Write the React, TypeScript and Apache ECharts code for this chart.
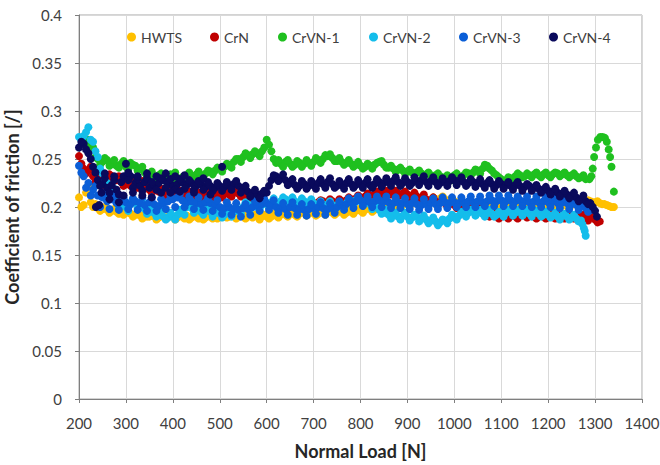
import React, { useEffect, useRef } from "react";
import * as echarts from "echarts";

// Normal load sampling grids [N]
const loadGrid = [
  200, 210, 220, 230, 240, 250, 260, 270, 280, 290,
  300, 310, 320, 330, 340, 350, 360, 370, 380, 390,
  400, 410, 420, 430, 440, 450, 460, 470, 480, 490,
  500, 510, 520, 530, 540, 550, 560, 570, 580, 590,
  600, 610, 620, 630, 640, 650, 660, 670, 680, 690,
  700, 710, 720, 730, 740, 750, 760, 770, 780, 790,
  800, 810, 820, 830, 840, 850, 860, 870, 880, 890,
  900, 910, 920, 930, 940, 950, 960, 970, 980, 990,
  1000, 1010, 1020, 1030, 1040, 1050, 1060, 1070, 1080, 1090,
  1100, 1110, 1120, 1130, 1140, 1150, 1160, 1170, 1180, 1190,
  1200, 1210, 1220, 1230, 1240, 1250, 1260, 1270, 1280, 1290,
  1300, 1310, 1320, 1330, 1340,
];
const loadGridB = [
  205, 215, 225, 235, 245, 255, 265, 275, 285, 295,
  305, 315, 325, 335, 345, 355, 365, 375, 385, 395,
  405, 415, 425, 435, 445, 455, 465, 475, 485, 495,
  505, 515, 525, 535, 545, 555, 565, 575, 585, 595,
  605, 615, 625, 635, 645, 655, 665, 675, 685, 695,
  705, 715, 725, 735, 745, 755, 765, 775, 785, 795,
  805, 815, 825, 835, 845, 855, 865, 875, 885, 895,
  905, 915, 925, 935, 945, 955, 965, 975, 985, 995,
  1005, 1015, 1025, 1035, 1045, 1055, 1065, 1075, 1085, 1095,
  1105, 1115, 1125, 1135, 1145, 1155, 1165, 1175, 1185, 1195,
  1205, 1215, 1225, 1235, 1245, 1255, 1265, 1275, 1285, 1295,
  1305, 1315, 1325, 1335,
];

const hwts = [
  0.21, 0.202, 0.222, 0.2, 0.199, 0.198, 0.197, 0.196, 0.195, 0.196,
  0.194, 0.193, 0.192, 0.191, 0.192, 0.19, 0.19, 0.189, 0.19, 0.19,
  0.19, 0.189, 0.19, 0.191, 0.189, 0.19, 0.19, 0.189, 0.19, 0.191,
  0.191, 0.192, 0.19, 0.191, 0.19, 0.192, 0.19, 0.189, 0.19, 0.19,
  0.19, 0.19, 0.191, 0.192, 0.192, 0.193, 0.192, 0.193, 0.194, 0.193,
  0.194, 0.193, 0.194, 0.195, 0.194, 0.194, 0.195, 0.194, 0.195, 0.196,
  0.196, 0.197, 0.198, 0.197, 0.198, 0.199, 0.2, 0.2, 0.201, 0.202,
  0.203, 0.204, 0.205, 0.206, 0.206, 0.207, 0.208, 0.209, 0.208, 0.207,
  0.206, 0.205, 0.204, 0.203, 0.202, 0.201, 0.2, 0.2, 0.199, 0.199,
  0.199, 0.2, 0.2, 0.199, 0.2, 0.201, 0.2, 0.2, 0.201, 0.2,
  0.2, 0.201, 0.2, 0.202, 0.201, 0.202, 0.203, 0.204, 0.205, 0.206,
  0.205, 0.204, 0.203, 0.201, 0.2,
];
const hwtsB = [
  0.2, 0.215, 0.205, 0.203, 0.196, 0.2, 0.194, 0.198, 0.193, 0.192,
  0.196, 0.19, 0.195, 0.188, 0.19, 0.193, 0.187, 0.192, 0.188, 0.192,
  0.187, 0.192, 0.188, 0.187, 0.192, 0.188, 0.187, 0.192, 0.188, 0.188,
  0.194, 0.189, 0.193, 0.188, 0.193, 0.188, 0.192, 0.192, 0.187, 0.192,
  0.188, 0.193, 0.189, 0.194, 0.19, 0.195, 0.19, 0.195, 0.191, 0.196,
  0.191, 0.196, 0.192, 0.197, 0.192, 0.196, 0.192, 0.197, 0.193, 0.198,
  0.194, 0.2, 0.195, 0.2, 0.196, 0.202, 0.198, 0.203, 0.199, 0.205,
  0.201, 0.207, 0.203, 0.209, 0.204, 0.21, 0.206, 0.211, 0.206, 0.209,
  0.203, 0.207, 0.202, 0.205, 0.2, 0.203, 0.198, 0.202, 0.197, 0.201,
  0.197, 0.202, 0.198, 0.202, 0.198, 0.203, 0.198, 0.202, 0.198, 0.202,
  0.198, 0.203, 0.199, 0.204, 0.2, 0.204, 0.205, 0.206, 0.207, 0.205,
  0.206, 0.203, 0.202, 0.2,
];

const crn = [
  0.253, 0.24, 0.238, 0.232, 0.228, 0.225, 0.23, 0.232, 0.228, 0.226,
  0.225, 0.222, 0.226, 0.223, 0.22, 0.218, 0.219, 0.216, 0.215, 0.214,
  0.214, 0.213, 0.215, 0.212, 0.213, 0.211, 0.212, 0.213, 0.214, 0.212,
  0.213, 0.214, 0.213, 0.215, 0.214, 0.212, 0.209, 0.207, 0.205, 0.204,
  0.203, 0.202, 0.203, 0.202, 0.201, 0.202, 0.203, 0.202, 0.203, 0.204,
  0.204, 0.205, 0.206, 0.205, 0.206, 0.205, 0.206, 0.207, 0.208, 0.209,
  0.21, 0.211, 0.212, 0.213, 0.214, 0.214, 0.215, 0.215, 0.214, 0.214,
  0.213, 0.212, 0.211, 0.21, 0.208, 0.207, 0.206, 0.205, 0.204, 0.203,
  0.202, 0.201, 0.2, 0.199, 0.198, 0.197, 0.195, 0.193, 0.192, 0.191,
  0.191, 0.192, 0.191, 0.19, 0.191, 0.192, 0.191, 0.19, 0.191, 0.19,
  0.19, 0.191, 0.19, 0.192, 0.191, 0.19, 0.19, 0.189, 0.188, 0.19,
  0.187, 0.185, null, null, null,
];
const crnB = [
  0.245, 0.235, 0.242, 0.226, 0.233, 0.222, 0.234, 0.228, 0.232, 0.222,
  0.229, 0.226, 0.22, 0.227, 0.223, 0.215, 0.222, 0.219, 0.212, 0.217,
  0.211, 0.217, 0.211, 0.216, 0.21, 0.215, 0.209, 0.216, 0.21, 0.216,
  0.21, 0.217, 0.211, 0.218, 0.211, 0.215, 0.206, 0.209, 0.203, 0.206,
  0.2, 0.205, 0.2, 0.205, 0.199, 0.205, 0.2, 0.205, 0.201, 0.206,
  0.202, 0.207, 0.203, 0.208, 0.203, 0.208, 0.204, 0.21, 0.206, 0.212,
  0.208, 0.214, 0.21, 0.216, 0.212, 0.217, 0.213, 0.217, 0.212, 0.216,
  0.21, 0.215, 0.208, 0.213, 0.206, 0.21, 0.203, 0.208, 0.201, 0.205,
  0.199, 0.203, 0.197, 0.201, 0.195, 0.199, 0.192, 0.19, 0.194, 0.188,
  0.194, 0.188, 0.193, 0.188, 0.194, 0.189, 0.193, 0.188, 0.193, 0.188,
  0.193, 0.188, 0.192, 0.188, 0.193, 0.188, 0.191, 0.192, 0.186, 0.189,
  0.184, null, null, null,
];

const crvn1 = [
  null, null, 0.27, 0.262, 0.25, 0.247, 0.249, 0.245, 0.243, 0.245,
  0.242, 0.246, 0.243, 0.24, 0.236, 0.234, 0.232, 0.233, 0.23, 0.231,
  0.229, 0.228, 0.231, 0.233, 0.232, 0.234, 0.233, 0.235, 0.237, 0.238,
  0.24, 0.242, 0.244, 0.247, 0.25, 0.252, 0.254, 0.255, 0.256, 0.258,
  0.27, 0.258, 0.246, 0.245, 0.247, 0.245, 0.244, 0.246, 0.245, 0.246,
  0.247, 0.249, 0.25, 0.253, 0.251, 0.248, 0.247, 0.246, 0.245, 0.244,
  0.243, 0.242, 0.243, 0.244, 0.247, 0.244, 0.241, 0.24, 0.239, 0.238,
  0.237, 0.236, 0.236, 0.235, 0.234, 0.233, 0.233, 0.232, 0.231, 0.23,
  0.233, 0.232, 0.233, 0.235, 0.236, 0.238, 0.24, 0.243, 0.238, 0.233,
  0.229, 0.228, 0.23, 0.232, 0.233, 0.232, 0.233, 0.234, 0.233, 0.234,
  0.233, 0.234, 0.235, 0.234, 0.233, 0.233, 0.232, 0.231, 0.229, null,
  null, null, null, null, null,
];
const crvn1B = [
  null, 0.266, 0.262, 0.252, 0.244, 0.251, 0.243, 0.249, 0.241, 0.248,
  0.239, 0.244, 0.238, 0.242, 0.232, 0.237, 0.229, 0.235, 0.227, 0.234,
  0.236, 0.226, 0.228, 0.236, 0.23, 0.237, 0.231, 0.238, 0.234, 0.241,
  0.237, 0.245, 0.241, 0.25, 0.247, 0.256, 0.251, 0.258, 0.253, 0.262,
  0.265, 0.25, 0.249, 0.242, 0.249, 0.242, 0.248, 0.242, 0.249, 0.243,
  0.251, 0.246, 0.254, 0.255, 0.248, 0.251, 0.244, 0.249, 0.242, 0.247,
  0.24, 0.245, 0.24, 0.246, 0.248, 0.241, 0.243, 0.237, 0.241, 0.235,
  0.239, 0.233, 0.238, 0.232, 0.236, 0.23, 0.235, 0.229, 0.233, 0.228,
  0.235, 0.23, 0.236, 0.233, 0.239, 0.235, 0.244, 0.24, 0.235, 0.231,
  0.226, 0.231, 0.228, 0.235, 0.231, 0.235, 0.231, 0.236, 0.231, 0.236,
  0.231, 0.236, 0.232, 0.236, 0.231, 0.235, 0.23, 0.233, null, null,
  null, null, null, null,
];
// CrVN-1 peak at the end of the test
const crvn1PeakLoad = [1288, 1292, 1295, 1298, 1302, 1306, 1311, 1316, 1321, 1325, 1329, 1332, 1335, 1340];
const crvn1PeakCof = [0.229, 0.232, 0.24, 0.252, 0.262, 0.27, 0.273, 0.273, 0.272, 0.268, 0.26, 0.252, 0.242, 0.216];

const crvn2 = [
  0.273, 0.274, 0.283, 0.268, 0.252, 0.235, 0.225, 0.215, 0.208, 0.203,
  0.2, 0.203, 0.205, 0.2, 0.198, 0.195, 0.194, 0.192, 0.19, 0.189,
  0.19, 0.192, 0.196, 0.2, 0.199, 0.197, 0.195, 0.196, 0.195, 0.194,
  0.193, 0.192, 0.194, 0.195, 0.197, 0.2, 0.203, 0.202, 0.2, 0.202,
  0.204, 0.205, 0.203, 0.206, 0.208, 0.207, 0.206, 0.205, 0.206, 0.205,
  0.204, 0.203, 0.202, 0.203, 0.202, 0.2, 0.202, 0.204, 0.206, 0.207,
  0.206, 0.205, 0.203, 0.2, 0.197, 0.194, 0.192, 0.191, 0.19, 0.191,
  0.19, 0.189, 0.19, 0.188, 0.187, 0.186, 0.185, 0.184, 0.186, 0.188,
  0.19, 0.191, 0.193, 0.194, 0.195, 0.194, 0.193, 0.194, 0.193, 0.192,
  0.193, 0.194, 0.195, 0.194, 0.195, 0.194, 0.193, 0.194, 0.193, 0.192,
  0.192, 0.191, 0.19, 0.191, 0.19, 0.189, 0.188, 0.186, null, null,
  null, null, null, null, null,
];
const crvn2B = [
  0.27, 0.278, 0.27, 0.258, 0.24, 0.228, 0.21, 0.219, 0.2, 0.207,
  0.196, 0.208, 0.199, 0.205, 0.193, 0.2, 0.19, 0.197, 0.187, 0.194,
  0.187, 0.197, 0.192, 0.203, 0.194, 0.201, 0.192, 0.199, 0.19, 0.197,
  0.189, 0.196, 0.19, 0.199, 0.193, 0.205, 0.198, 0.206, 0.197, 0.206,
  0.2, 0.209, 0.2, 0.21, 0.204, 0.21, 0.202, 0.209, 0.201, 0.208,
  0.2, 0.206, 0.198, 0.206, 0.198, 0.205, 0.199, 0.208, 0.202, 0.21,
  0.202, 0.208, 0.198, 0.203, 0.193, 0.197, 0.188, 0.194, 0.187, 0.194,
  0.186, 0.192, 0.185, 0.191, 0.183, 0.189, 0.181, 0.187, 0.183, 0.192,
  0.187, 0.195, 0.19, 0.197, 0.191, 0.197, 0.19, 0.197, 0.19, 0.195,
  0.19, 0.197, 0.191, 0.197, 0.191, 0.197, 0.19, 0.196, 0.19, 0.195,
  0.189, 0.194, 0.187, 0.193, 0.187, 0.192, 0.185, null, null, null,
  null, null, null, null,
];
const crvn2TailLoad = [1273, 1276, 1278, 1280];
const crvn2TailCof = [0.182, 0.178, 0.175, 0.17];

const crvn3 = [
  0.243, 0.232, 0.225, 0.218, 0.212, 0.21, 0.206, 0.208, 0.204, 0.206,
  0.205, 0.203, 0.206, 0.204, 0.202, 0.205, 0.203, 0.201, 0.204, 0.206,
  0.208, 0.21, 0.207, 0.205, 0.206, 0.204, 0.203, 0.205, 0.204, 0.202,
  0.2, 0.199, 0.2, 0.198, 0.197, 0.199, 0.198, 0.2, 0.202, 0.203,
  0.204, 0.202, 0.2, 0.199, 0.198, 0.2, 0.199, 0.198, 0.197, 0.198,
  0.199, 0.2, 0.199, 0.198, 0.199, 0.2, 0.202, 0.203, 0.205, 0.206,
  0.207, 0.206, 0.205, 0.206, 0.207, 0.206, 0.205, 0.204, 0.205, 0.204,
  0.203, 0.204, 0.203, 0.202, 0.203, 0.204, 0.203, 0.204, 0.205, 0.204,
  0.205, 0.204, 0.205, 0.206, 0.205, 0.206, 0.205, 0.206, 0.207, 0.206,
  0.207, 0.206, 0.207, 0.206, 0.207, 0.206, 0.205, 0.206, 0.205, 0.206,
  0.205, 0.206, 0.204, 0.205, 0.204, 0.203, 0.202, 0.201, 0.199, 0.197,
  null, null, null, null, null,
];
const crvn3B = [
  0.236, 0.22, 0.212, 0.222, 0.2, 0.215, 0.198, 0.212, 0.197, 0.21,
  0.198, 0.209, 0.197, 0.21, 0.196, 0.21, 0.196, 0.208, 0.198, 0.212,
  0.2, 0.214, 0.2, 0.211, 0.198, 0.21, 0.197, 0.209, 0.196, 0.207,
  0.193, 0.205, 0.192, 0.204, 0.19, 0.203, 0.192, 0.206, 0.196, 0.208,
  0.197, 0.207, 0.194, 0.204, 0.192, 0.205, 0.192, 0.203, 0.191, 0.203,
  0.193, 0.205, 0.192, 0.204, 0.194, 0.206, 0.197, 0.209, 0.199, 0.211,
  0.201, 0.211, 0.2, 0.211, 0.2, 0.211, 0.199, 0.21, 0.199, 0.209,
  0.198, 0.209, 0.197, 0.208, 0.198, 0.209, 0.198, 0.21, 0.199, 0.21,
  0.2, 0.21, 0.2, 0.211, 0.2, 0.211, 0.201, 0.212, 0.201, 0.212,
  0.201, 0.212, 0.201, 0.211, 0.201, 0.211, 0.2, 0.211, 0.2, 0.21,
  0.2, 0.21, 0.199, 0.209, 0.198, 0.208, 0.197, 0.205, 0.195, null,
  null, null, null, null,
];

const crvn4 = [
  0.262, 0.266, 0.256, 0.242, 0.228, 0.224, 0.22, 0.223, 0.218, 0.226,
  0.245, 0.232, 0.225, 0.222, 0.226, 0.22, 0.223, 0.225, 0.228, 0.224,
  0.222, 0.224, 0.226, 0.223, 0.225, 0.222, 0.224, 0.221, 0.222, 0.22,
  0.222, 0.221, 0.223, 0.224, 0.222, 0.219, 0.216, 0.214, 0.213, 0.214,
  0.215, 0.228, 0.232, 0.23, 0.228, 0.225, 0.223, 0.222, 0.224, 0.222,
  0.223, 0.225, 0.224, 0.226, 0.224, 0.222, 0.223, 0.225, 0.224, 0.223,
  0.224, 0.225, 0.223, 0.224, 0.226, 0.225, 0.226, 0.227, 0.226, 0.225,
  0.226, 0.225, 0.227, 0.228, 0.226, 0.227, 0.226, 0.225, 0.226, 0.227,
  0.228, 0.227, 0.226, 0.225, 0.226, 0.225, 0.224, 0.225, 0.224, 0.223,
  0.224, 0.223, 0.222, 0.223, 0.222, 0.221, 0.222, 0.22, 0.219, 0.218,
  0.217, 0.216, 0.215, 0.214, 0.213, 0.212, 0.21, 0.208, 0.206, 0.204,
  0.196, null, null, null, null,
];
const crvn4B = [
  0.268, 0.26, 0.25, 0.236, 0.222, 0.23, 0.215, 0.228, 0.213, 0.232,
  0.228, 0.22, 0.229, 0.217, 0.23, 0.226, 0.218, 0.23, 0.22, 0.229,
  0.218, 0.229, 0.219, 0.228, 0.218, 0.227, 0.218, 0.226, 0.217, 0.225,
  0.217, 0.226, 0.218, 0.227, 0.215, 0.222, 0.211, 0.218, 0.209, 0.217,
  0.222, 0.233, 0.227, 0.234, 0.223, 0.229, 0.219, 0.227, 0.219, 0.227,
  0.219, 0.229, 0.22, 0.23, 0.22, 0.227, 0.219, 0.229, 0.22, 0.228,
  0.22, 0.229, 0.22, 0.229, 0.221, 0.23, 0.222, 0.231, 0.222, 0.23,
  0.222, 0.231, 0.223, 0.232, 0.222, 0.231, 0.222, 0.23, 0.222, 0.231,
  0.223, 0.231, 0.222, 0.229, 0.221, 0.229, 0.22, 0.228, 0.219, 0.227,
  0.219, 0.226, 0.218, 0.226, 0.217, 0.224, 0.217, 0.223, 0.215, 0.221,
  0.213, 0.219, 0.211, 0.217, 0.209, 0.215, 0.206, 0.212, 0.203, 0.2,
  null, null, null, null,
];
// Scattered CrVN-4 readings during running-in and at the end
const crvn4ScatterLoad = [236, 243, 248, 255, 265, 275, 285, 295, 305, 315, 325, 335, 345, 355, 365, 375, 385, 395, 405, 415, 425, 445, 465, 480, 505, 1304];
const crvn4ScatterCof = [0.2, 0.202, 0.215, 0.235, 0.208, 0.232, 0.205, 0.212, 0.236, 0.215, 0.232, 0.212, 0.235, 0.21, 0.232, 0.215, 0.235, 0.215, 0.232, 0.216, 0.233, 0.215, 0.23, 0.213, 0.242, 0.19];

const seriesNames = ["HWTS", "CrN", "CrVN-1", "CrVN-2", "CrVN-3", "CrVN-4"];
const seriesColors = ["#FFC000", "#C00000", "#1FC01F", "#14BDEB", "#0A5ED7", "#0A0A5C"];
const legendLeft = [122, 205, 273, 364, 454, 544];

const xTicks = { min: 200, max: 1400, interval: 100 };
const yTicks = { min: 0, max: 0.4, interval: 0.05 };

function pairs(xs: number[], ys: (number | null)[]) {
  const out: number[][] = [];
  xs.forEach((x, i) => {
    const y = ys[i];
    if (y !== null && y !== undefined) out.push([x, y]);
  });
  return out;
}

const FONT = "Lato, 'Open Sans', sans-serif";

export default function App() {
  const ref = useRef<HTMLDivElement>(null);
  useEffect(() => {
    if (!ref.current) return;
    const chart = echarts.init(ref.current, undefined, { renderer: "svg" });
    const data = [
      pairs(loadGrid, hwts).concat(pairs(loadGridB, hwtsB)),
      pairs(loadGrid, crn).concat(pairs(loadGridB, crnB)),
      pairs(loadGrid, crvn1).concat(pairs(loadGridB, crvn1B), pairs(crvn1PeakLoad, crvn1PeakCof)),
      pairs(loadGrid, crvn2).concat(pairs(loadGridB, crvn2B), pairs(crvn2TailLoad, crvn2TailCof)),
      pairs(loadGrid, crvn3).concat(pairs(loadGridB, crvn3B)),
      pairs(loadGrid, crvn4).concat(pairs(loadGridB, crvn4B), pairs(crvn4ScatterLoad, crvn4ScatterCof)),
    ];
    chart.setOption({
      animation: false,
      backgroundColor: "#ffffff",
      textStyle: { fontFamily: FONT },
      grid: {
        left: 79,
        right: 18,
        top: 15,
        bottom: 66,
        outerBoundsMode: "none",
        containLabel: false,
        show: true,
        borderColor: "#a6a6a6",
        borderWidth: 1,
        backgroundColor: "transparent",
      },
      legend: seriesNames.map((name, i) => ({
        data: [name],
        left: legendLeft[i],
        top: 25,
        icon: "circle",
        itemWidth: 9,
        itemHeight: 9,
        textStyle: { fontFamily: FONT, fontSize: 14, color: "#404040" },
      })),
      xAxis: {
        type: "value",
        min: xTicks.min,
        max: xTicks.max,
        interval: xTicks.interval,
        name: "Normal Load [N]",
        nameLocation: "middle",
        nameGap: 43,
        nameTextStyle: { fontFamily: FONT, fontSize: 18, fontWeight: "bold", color: "#262626" },
        axisLine: { show: true, lineStyle: { color: "#7f7f7f", width: 1 } },
        axisTick: { show: true, inside: false, length: 4, lineStyle: { color: "#7f7f7f" } },
        axisLabel: { fontFamily: FONT, fontSize: 15, color: "#404040", margin: 16, formatter: (v: number) => String(v) },
        splitLine: { show: true, lineStyle: { color: "#d9d9d9", width: 1 } },
      },
      yAxis: {
        type: "value",
        min: yTicks.min,
        max: yTicks.max,
        interval: yTicks.interval,
        name: "Coefficient of friction [/]",
        nameLocation: "middle",
        nameGap: 52,
        nameTextStyle: { fontFamily: FONT, fontSize: 18, fontWeight: "bold", color: "#262626" },
        axisLine: { show: true, lineStyle: { color: "#7f7f7f", width: 1 } },
        axisTick: { show: true, inside: false, length: 4, lineStyle: { color: "#7f7f7f" } },
        axisLabel: { fontFamily: FONT, fontSize: 15, color: "#404040", margin: 17, formatter: (v: number) => String(v) },
        splitLine: { show: true, lineStyle: { color: "#d9d9d9", width: 1 } },
      },
      series: seriesNames.map((name, i) => ({
        name,
        type: "scatter",
        data: data[i],
        symbol: "circle",
        symbolSize: 8,
        itemStyle: { color: seriesColors[i], opacity: 1 },
        emphasis: { disabled: true },
      })),
    });
    return () => chart.dispose();
  }, []);
  return <div ref={ref} style={{ width: 660, height: 465, position: "absolute", left: 0, top: 0 }} />;
}
